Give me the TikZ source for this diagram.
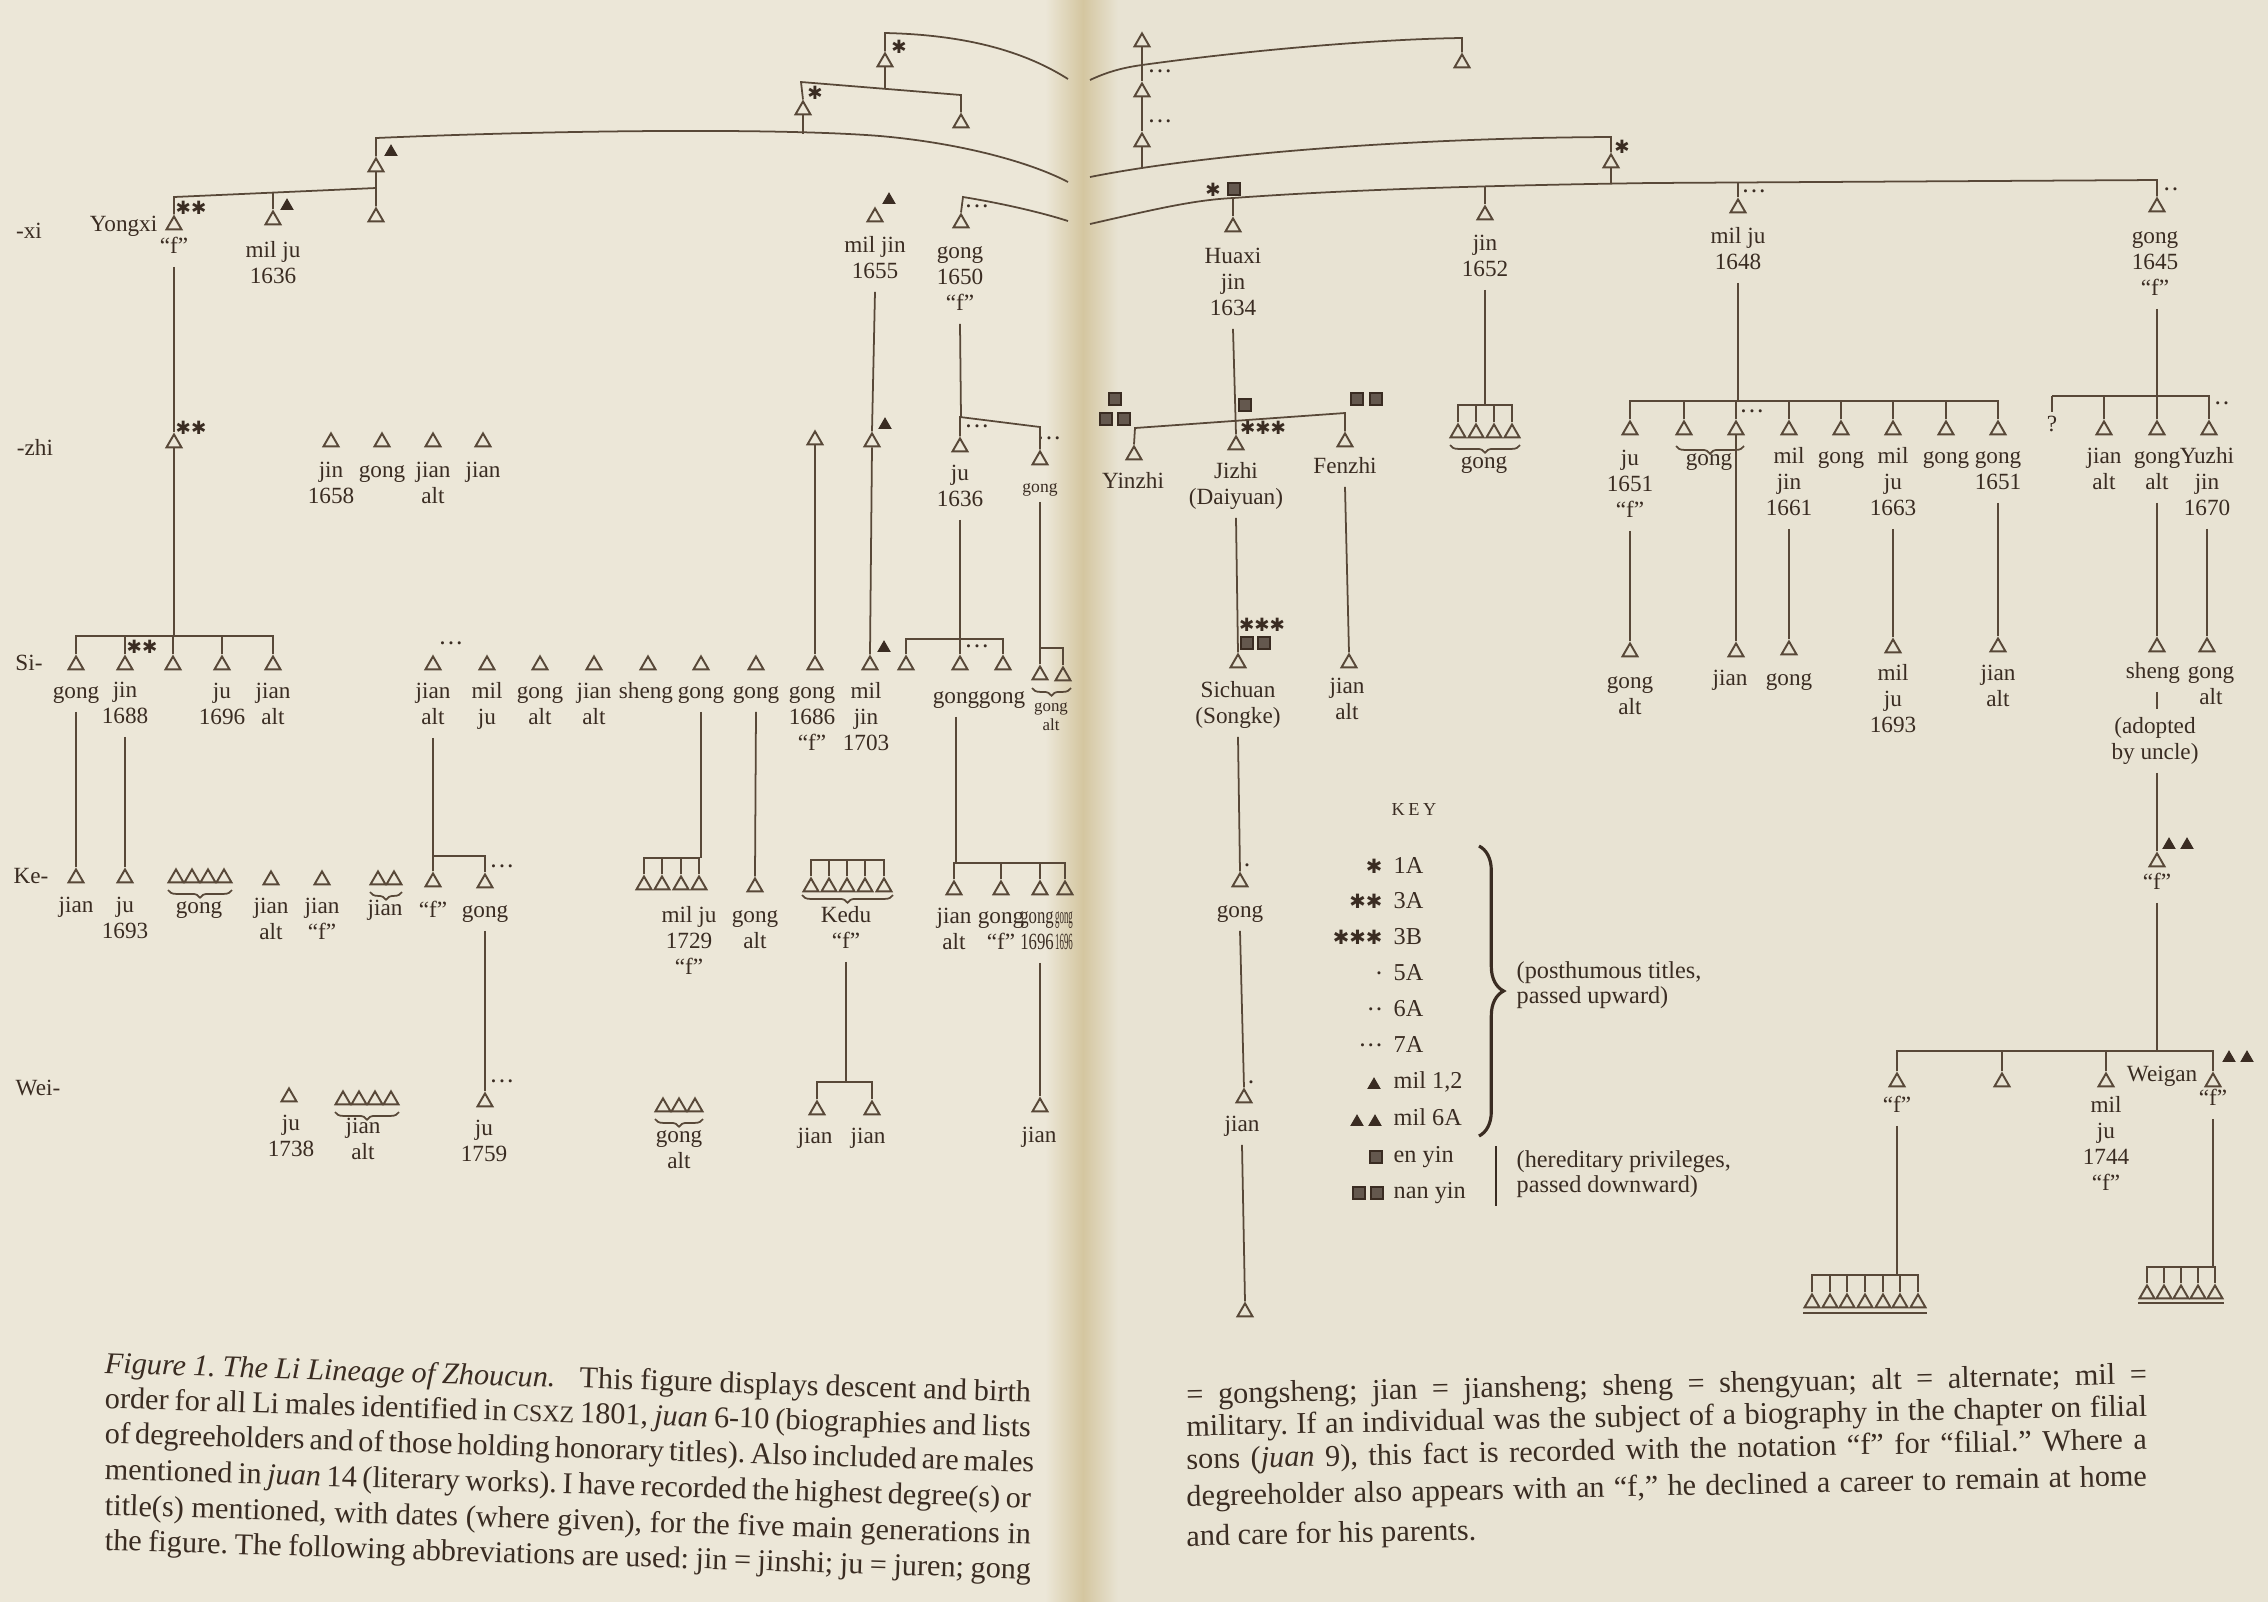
\documentclass[tikz,border=0pt]{standalone}
\usepackage{fontspec}
\setmainfont{Liberation Serif}
\newfontfamily\djv{DejaVu Sans}
\usepackage{graphicx}
\usetikzlibrary{shapes.geometric,decorations.pathreplacing}
\definecolor{paperL}{RGB}{236,231,216}
\definecolor{paperR}{RGB}{232,227,211}
\definecolor{gut}{RGB}{212,198,160}
\definecolor{ink}{RGB}{58,44,34}
\definecolor{lnc}{RGB}{88,72,56}
\definecolor{sqf}{RGB}{100,88,78}
\tikzset{
 tri/.style={draw=lnc,line width=0.55pt,regular polygon,regular polygon sides=3,minimum size=0.172cm,inner sep=0pt},
 ftri/.style={fill=ink,draw=ink,line width=0.3pt,regular polygon,regular polygon sides=3,minimum size=0.135cm,inner sep=0pt},
 sqr/.style={fill=sqf,draw=ink,line width=0.7pt,minimum size=0.115cm,inner sep=0pt},
 ln/.style={draw=lnc,line width=0.5pt},
 lab/.style={font=\fontsize{6.6}{7.4}\selectfont,text=ink,inner xsep=0pt,inner ysep=1.5pt,anchor=base},
 mk/.style={text=ink,inner sep=0pt},
 brc/.style={draw=lnc,line width=0.5pt,decorate,decoration={brace,mirror,amplitude=2.2pt}},
 keyt/.style={font=\fontsize{6.9}{7.2}\selectfont,text=ink,inner sep=0pt},
 captxt/.style={font=\fontsize{8.6}{10}\selectfont\frenchspacing,text=ink,inner sep=0pt,anchor=base west},
}
\newcommand\Tr[3]{\node[tri] (#1) at (#2,#3) {};}
\newcommand\Lb[4]{\node[lab] (#1) at (#2,{#3+5}) {\begin{tabular}[t]{@{}c@{}}#4\end{tabular}};}
\newcommand\Sr[4]{\node[mk,font=\djv\fontsize{5.2}{5.2}\selectfont] (#1) at (#2,#3) {#4};}
\newcommand\Dt[4]{\node[mk,font=\fontsize{3.6}{3.6}\selectfont] (#1) at (#2,#3) {#4};}
\newcommand\Ft[3]{\node[ftri] (#1) at (#2,#3) {};}
\newcommand\Sq[3]{\node[sqr] (#1) at (#2,#3) {};}
\newcommand\Bk[4]{\draw[ln] (#2.north) -- (#2.north |- 0,#1) -- (#3.north |- 0,#1) -- (#3.north);
  \foreach \nd in {#4} {\draw[ln] (\nd.north) -- (\nd.north |- 0,#1);}}
\def\dii{\textbullet\kern1.1pt\textbullet}
\def\diii{\textbullet\kern1.1pt\textbullet\kern1.1pt\textbullet}
\begin{document}
\begin{tikzpicture}[x=0.01cm,y=-0.01cm]
\useasboundingbox (0,0) rectangle (2268,1602);
% ---------- paper ----------
\fill[paperL] (0,0) rectangle (1083,1602);
\fill[paperR] (1083,0) rectangle (2268,1602);
\shade[left color=paperL,right color=gut] (1045,0) rectangle (1083,1602);
\shade[left color=gut,right color=paperR] (1083,0) rectangle (1118,1602);
% ---------- generation names ----------
\Lb{gXi}{29}{233}{-xi}
\Lb{gZhi}{35}{450}{-zhi}
\Lb{gSi}{29}{665}{Si-}
\Lb{gKe}{31}{878}{Ke-}
\Lb{gWei}{38}{1090}{Wei-}
% ---------- left page, top ----------
\Tr{root}{885}{62} \Sr{sRoot}{899}{47}{✱}
\Tr{gA}{803}{110} \Sr{sA}{815}{93}{✱}
\Tr{gB}{961}{123}
\draw[ln] (gA.north) -- (801,82) -- (961,95) -- (gB.north);
\draw[ln] (root.south) -- (885,89);
\draw[ln] (root.north) -- (885,33) .. controls (975,35) and (1030,55) .. (1068,79);
\draw[ln] (gA.south) -- (803,134);
\Tr{up}{376}{167} \Ft{fUp}{391}{152}
\draw[ln] (up.north) -- (376,138) .. controls (560,130) and (780,128) .. (880,136) .. controls (960,143) and (1030,162) .. (1068,182);
% xi row
\Tr{yx}{174}{225} \Sr{sYx}{191}{208}{✱✱}
\node[lab,anchor=base east] (lYx) at (158,231) {Yongxi};
\Lb{lYf}{174}{248}{“f”}
\Tr{mj}{273}{220} \Ft{fMj}{287}{206}
\Lb{lMj}{273}{252}{mil ju\\1636}
\Tr{x3}{376}{217}
\draw[ln] (yx.north) -- (174,197) -- (376,188) -- (x3.north);
\draw[ln] (mj.north) -- (273,193);
\draw[ln] (up.south) -- (376,188);
\Tr{mj55}{875}{217} \Ft{fMj55}{889}{200}
\Lb{lMj55}{875}{247}{mil jin\\1655}
\Tr{g50}{961}{223} \Dt{dG50}{977}{208}{\diii}
\Lb{lG50}{960}{253}{gong\\1650\\“f”}
\draw[ln] (g50.north) -- (963,197) .. controls (1000,203) and (1040,212) .. (1068,221);
% zhi row
\Tr{zY}{174}{443} \Sr{sZY}{191}{428}{✱✱}
\draw[ln] (lYf.south) -- (zY.north);
\Tr{z1}{331}{442} \Tr{z2}{382}{442} \Tr{z3}{433}{442} \Tr{z4}{483}{442}
\Lb{lz1}{331}{472}{jin\\1658}
\Lb{lz2}{382}{472}{gong}
\Lb{lz3}{433}{472}{jian\\alt}
\Lb{lz4}{483}{472}{jian}
\Tr{zG}{815}{440}
\Tr{zM}{872}{442} \Ft{fZM}{885}{425}
\draw[ln] (lMj55.south) -- (zM.north);
\Tr{zJ}{960}{447} \Dt{dZJ}{977}{428}{\diii}
\Tr{zR}{1040}{460} \Dt{dZR}{1049}{440}{\diii}
\draw[ln] (zJ.north) -- (960,417) -- (1040,427) -- (zR.north);
\draw[ln] (lG50.south) -- (961,417);
\Lb{lzJ}{960}{475}{ju\\1636}
\node[lab,font=\fontsize{5}{5.6}\selectfont] (lzR) at (1040,492) {gong};
% Si row
\Tr{s1}{76}{665} \Tr{s2}{125}{665} \Tr{s3}{173}{665} \Tr{s4}{222}{665} \Tr{s5}{273}{665}
\Bk{636}{s1}{s5}{s2,s3,s4}
\draw[ln] (zY.south) -- (174,636);
\Sr{sS2}{142}{647}{✱✱}
\Lb{ls1}{76}{693}{gong}
\Lb{ls2}{125}{692}{jin\\1688}
\Lb{ls4}{222}{693}{ju\\1696}
\Lb{ls5}{273}{693}{jian\\alt}
\Tr{s6}{433}{665} \Dt{dS6}{451}{645}{\diii}
\Tr{s7}{487}{665} \Tr{s8}{540}{665} \Tr{s9}{594}{665} \Tr{s10}{648}{665}
\Tr{s11}{701}{665} \Tr{s12}{756}{665} \Tr{s13}{815}{665} \Tr{s14}{870}{665}
\Ft{fS14}{884}{648}
\Lb{ls6}{433}{693}{jian\\alt}
\Lb{ls7}{487}{693}{mil\\ju}
\Lb{ls8}{540}{693}{gong\\alt}
\Lb{ls9}{594}{693}{jian\\alt}
\Lb{ls10}{646}{693}{sheng}
\Lb{ls11}{701}{693}{gong}
\Lb{ls12}{756}{693}{gong}
\Lb{ls13}{812}{693}{gong\\1686\\“f”}
\Lb{ls14}{866}{693}{mil\\jin\\1703}
\draw[ln] (zG.south) -- (s13.north);
\draw[ln] (zM.south) -- (s14.north);
\Tr{s15}{906}{665} \Tr{s16}{960}{665} \Tr{s17}{1003}{665}
\Bk{639}{s15}{s17}{s16}
\draw[ln] (lzJ.south) -- (960,639);
\Dt{dS16}{977}{648}{\diii}
\Lb{ls16}{956}{698}{gong}
\Lb{ls17}{1002}{698}{gong}
\Tr{s18}{1040}{675} \Tr{s19}{1063}{676}
\draw[ln] (lzR.south) -- (1040,648);
\Bk{648}{s18}{s19}{s18}
\draw[brc] (1032,688) -- (1071,688);
\node[lab,font=\fontsize{4.8}{5.6}\selectfont] (ls18) at (1051,711) {\begin{tabular}[t]{@{}c@{}}gong\\alt\end{tabular}};
% Ke row
\Tr{k1}{76}{878} \Tr{k2}{125}{878}
\draw[ln] (ls1.south) -- (k1.north);
\draw[ln] (ls2.south) -- (k2.north);
\Lb{lk1}{76}{907}{jian}
\Lb{lk2}{125}{907}{ju\\1693}
\Tr{kq1}{176}{878} \Tr{kq2}{192}{878} \Tr{kq3}{208}{878} \Tr{kq4}{224}{878}
\draw[brc] (168,890) -- (232,890);
\Lb{lkq}{199}{908}{gong}
\Tr{kj1}{271}{880} \Tr{kj2}{322}{880}
\Lb{lkj1}{271}{908}{jian\\alt}
\Lb{lkj2}{322}{908}{jian\\“f”}
\Tr{kp1}{378}{880} \Tr{kp2}{394}{880}
\draw[brc] (370,892) -- (402,892);
\Lb{lkp}{385}{910}{jian}
\Tr{kf}{433}{882} \Tr{kg}{485}{883}
\Bk{856}{kf}{kg}{kf}
\draw[ln] (ls6.south) -- (433,856);
\Dt{dKg}{502}{868}{\diii}
\Lb{lkf}{433}{912}{“f”}
\Lb{lkg}{485}{912}{gong}
\Tr{m1}{644}{885} \Tr{m2}{662}{885} \Tr{m3}{681}{885} \Tr{m4}{699}{885}
\Bk{858}{m1}{m4}{m2,m3}
\draw[ln] (ls11.south) -- (ls11.south |- 0,858);
\Lb{lm}{689}{917}{mil ju\\1729\\“f”}
\Tr{ka}{755}{887}
\draw[ln] (ls12.south) -- (ka.north);
\Lb{lka}{755}{917}{gong\\alt}
\Tr{kd1}{811}{887} \Tr{kd2}{829}{887} \Tr{kd3}{847}{887} \Tr{kd4}{865}{887} \Tr{kd5}{884}{887}
\Bk{860}{kd1}{kd5}{kd2,kd3,kd4}
\draw[brc] (802,895) -- (893,895);
\Lb{lkd}{846}{917}{Kedu\\“f”}
\Tr{kk1}{954}{890} \Tr{kk2}{1001}{890} \Tr{kk3}{1040}{890} \Tr{kk4}{1065}{890}
\Bk{863}{kk1}{kk4}{kk2,kk3}
\draw[ln] (ls16.south) -- (ls16.south |- 0,863);
\Lb{lkk1}{954}{918}{jian\\alt}
\Lb{lkk2}{1001}{918}{gong\\“f”}
\node[lab] (lkk3) at (1037,923) {\scalebox{0.72}[1]{\begin{tabular}[t]{@{}c@{}}gong\\1696\end{tabular}}};
\node[lab] (lkk4) at (1064,923) {\scalebox{0.38}[1]{\begin{tabular}[t]{@{}c@{}}gong\\1696\end{tabular}}};
% Wei row
\Tr{w1}{289}{1097}
\Lb{lw1}{291}{1125}{ju\\1738}
\Tr{wq1}{343}{1100} \Tr{wq2}{359}{1100} \Tr{wq3}{375}{1100} \Tr{wq4}{391}{1100}
\draw[brc] (335,1112) -- (399,1112);
\Lb{lwq}{363}{1128}{jian\\alt}
\Tr{w3}{485}{1102}
\draw[ln] (lkg.south) -- (w3.north);
\Dt{dW3}{502}{1083}{\diii}
\Lb{lw3}{484}{1130}{ju\\1759}
\Tr{wg1}{663}{1107} \Tr{wg2}{679}{1107} \Tr{wg3}{695}{1107}
\draw[brc] (655,1119) -- (703,1119);
\Lb{lwg}{679}{1137}{gong\\alt}
\Tr{wj1}{817}{1110} \Tr{wj2}{872}{1110}
\Bk{1082}{wj1}{wj2}{wj1}
\draw[ln] (lkd.south) -- (lkd.south |- 0,1082);
\Lb{lwj1}{815}{1138}{jian}
\Lb{lwj2}{868}{1138}{jian}
\Tr{ww}{1040}{1107}
\draw[ln] (ww.north |- lkk3.south) -- (ww.north);
\Lb{lww}{1039}{1137}{jian}
% ---------- right page, top ----------
\Tr{c1}{1142}{42} \Tr{c2}{1142}{92} \Tr{c3}{1142}{142}
\draw[ln] (c1.south) -- (c2.north);
\draw[ln] (c2.south) -- (c3.north);
\draw[ln] (c3.south) -- (1142,167);
\Dt{dC2}{1160}{73}{\diii} \Dt{dC3}{1160}{123}{\diii}
\Tr{t62}{1462}{63}
\draw[ln] (1090,80) .. controls (1105,73) and (1120,68) .. (1142,65) .. controls (1250,50) and (1380,39) .. (1462,38) -- (t62.north);
\Tr{t61}{1611}{163} \Sr{sT61}{1622}{147}{✱}
\draw[ln] (1090,177) .. controls (1200,155) and (1400,138) .. (1611,137) -- (t61.north);
\draw[ln] (t61.south) -- (1611,184);
\Tr{t45}{2157}{207} \Dt{dT45}{2171}{191}{\dii}
\draw[ln] (1090,224) .. controls (1160,208) and (1195,200) .. (1233,198) .. controls (1330,191) and (1450,186) .. (1650,183) -- (2157,180) -- (t45.north);
\Lb{lT45}{2155}{238}{gong\\1645\\“f”}
\Tr{hx}{1233}{227} \Sr{sHx}{1213}{190}{✱} \Sq{qHx}{1234}{189}
\draw[ln] (1233,198) -- (hx.north);
\Lb{lHx}{1233}{258}{Huaxi\\jin\\1634}
\Tr{j52}{1485}{215}
\draw[ln] (1485,187) -- (j52.north);
\Lb{lJ52}{1485}{245}{jin\\1652}
\Tr{gg1}{1458}{433} \Tr{gg2}{1476}{433} \Tr{gg3}{1494}{433} \Tr{gg4}{1512}{433}
\Bk{405}{gg1}{gg4}{gg2,gg3}
\draw[ln] (lJ52.south) -- (1485,405);
\draw[brc] (1450,445) -- (1520,445);
\Lb{lgg}{1484}{463}{gong}
\Tr{m48}{1738}{208} \Dt{dM48}{1754}{193}{\diii}
\draw[ln] (1738,182) -- (m48.north);
\Lb{lM48}{1738}{238}{mil ju\\1648}
% zhi row right
\Tr{r1}{1630}{430} \Tr{r2}{1684}{430} \Tr{r3}{1736}{430} \Tr{r4}{1789}{430}
\Tr{r5}{1841}{430} \Tr{r6}{1893}{430} \Tr{r7}{1946}{430} \Tr{r8}{1998}{430}
\Bk{401}{r1}{r8}{r2,r3,r4,r5,r6,r7}
\draw[ln] (lM48.south) -- (lM48.south |- 0,401);
\Dt{dR3}{1752}{413}{\diii}
\draw[brc] (1676,446) -- (1744,446);
\Lb{lr23}{1709}{460}{gong}
\Lb{lr1}{1630}{460}{ju\\1651\\“f”}
\Lb{lr4}{1789}{458}{mil\\jin\\1661}
\Lb{lr5}{1841}{458}{gong}
\Lb{lr6}{1893}{458}{mil\\ju\\1663}
\Lb{lr7}{1946}{458}{gong}
\Lb{lr8}{1998}{458}{gong\\1651}
\Tr{y2}{2104}{430} \Tr{y3}{2157}{430} \Tr{y4}{2209}{430}
\coordinate (yq) at (2052,396);
\draw[ln] (yq) -- (y4.north |- yq) -- (y4.north);
\draw[ln] (yq) -- (2052,412);
\node[lab,anchor=center] (lyq) at (2052,424) {?};
\draw[ln] (y2.north) -- (y2.north |- yq);
\draw[ln] (y3.north) -- (y3.north |- yq);
\draw[ln] (y3.north |- lT45.south) -- (y3.north |- yq);
\Dt{dY4}{2222}{405}{\dii}
\Lb{ly2}{2104}{458}{jian\\alt}
\Lb{ly3}{2157}{458}{gong\\alt}
\Lb{ly4}{2207}{458}{Yuzhi\\jin\\1670}
% Huaxi's sons
\Tr{yz}{1134}{455} \Tr{jz}{1236}{445} \Tr{fz}{1345}{442}
\draw[ln] (yz.north) -- (1135,428) -- (1345,413) -- (fz.north);
\draw[ln] (lHx.south) -- (jz.north);
\Sq{qY1}{1115}{399} \Sq{qY2}{1106}{419} \Sq{qY3}{1124}{419}
\Sq{qJ}{1245}{405} \Sr{sJ}{1263}{428}{✱✱✱}
\Sq{qF1}{1357}{399} \Sq{qF2}{1376}{399}
\Lb{lyz}{1133}{483}{Yinzhi}
\Lb{ljz}{1236}{473}{Jizhi\\(Daiyuan)}
\Lb{lfz}{1345}{468}{Fenzhi}
\Tr{sc}{1238}{663} \Sr{sSc}{1262}{625}{✱✱✱} \Sq{qS1}{1247}{643} \Sq{qS2}{1264}{643}
\draw[ln] (ljz.south) -- (sc.north);
\Lb{lsc}{1238}{692}{Sichuan\\(Songke)}
\Tr{fj}{1349}{663}
\draw[ln] (lfz.south) -- (fj.north);
\Lb{lfj}{1347}{688}{jian\\alt}
\Tr{kS}{1240}{882} \Dt{dKS}{1247}{867}{\textbullet}
\draw[ln] (lsc.south) -- (kS.north);
\Lb{lkS}{1240}{912}{gong}
\Tr{wS}{1244}{1098} \Dt{dWS}{1251}{1084}{\textbullet}
\draw[ln] (lkS.south) -- (wS.north);
\Lb{lwS}{1242}{1126}{jian}
\Tr{bS}{1245}{1312}
\draw[ln] (lwS.south) -- (bS.north);
% Si row right
\Tr{q1}{1630}{652} \Tr{q3}{1736}{652} \Tr{q4}{1789}{650} \Tr{q6}{1893}{648}
\Tr{q8}{1998}{647} \Tr{q10}{2157}{647} \Tr{q11}{2207}{647}
\draw[ln] (lr1.south) -- (q1.north);
\draw[ln] (r3.south) -- (q3.north);
\draw[ln] (lr4.south) -- (q4.north);
\draw[ln] (lr6.south) -- (q6.north);
\draw[ln] (lr8.south) -- (q8.north);
\draw[ln] (ly3.south) -- (q10.north);
\draw[ln] (ly4.south) -- (q11.north);
\Lb{lq1}{1630}{683}{gong\\alt}
\Lb{lq3}{1730}{680}{jian}
\Lb{lq4}{1789}{680}{gong}
\Lb{lq6}{1893}{675}{mil\\ju\\1693}
\Lb{lq8}{1998}{675}{jian\\alt}
\Lb{lq10}{2153}{673}{sheng}
\Lb{lad}{2155}{728}{(adopted\\by uncle)}
\draw[ln] (q10.south |- lq10.south) -- (q10.south |- lad.north);
\Lb{lq11}{2211}{673}{gong\\alt}
% lower right
\Tr{f1}{2157}{862} \Ft{fF1a}{2169}{845} \Ft{fF1b}{2187}{845}
\draw[ln] (f1.north |- lad.south) -- (f1.north);
\Lb{lf1}{2157}{884}{“f”}
\Tr{b1}{1897}{1082} \Tr{b2}{2002}{1082} \Tr{b3}{2106}{1082} \Tr{b4}{2213}{1082}
\Bk{1051}{b1}{b4}{b2,b3}
\draw[ln] (lf1.south) -- (lf1.south |- 0,1051);
\Ft{fB4a}{2229}{1058} \Ft{fB4b}{2247}{1058}
\Lb{lb1}{1897}{1107}{“f”}
\Lb{lb3}{2106}{1107}{mil\\ju\\1744\\“f”}
\node[lab,anchor=base east] (lwg) at (2198,1081) {Weigan};
\Lb{lb4}{2213}{1100}{“f”}
\Tr{h1}{1812}{1303} \Tr{h2}{1830}{1303} \Tr{h3}{1847}{1303} \Tr{h4}{1865}{1303}
\Tr{h5}{1883}{1303} \Tr{h6}{1900}{1303} \Tr{h7}{1918}{1303}
\Bk{1275}{h1}{h7}{h2,h3,h4,h5,h6}
\draw[ln] (lb1.south) -- (lb1.south |- 0,1275);
\draw[ln] (1803,1313) -- (1927,1313);
\Tr{e1}{2147}{1294} \Tr{e2}{2164}{1294} \Tr{e3}{2181}{1294} \Tr{e4}{2198}{1294} \Tr{e5}{2215}{1294}
\Bk{1267}{e1}{e5}{e2,e3,e4}
\draw[ln] (lb4.south) -- (lb4.south |- 0,1267);
\draw[ln] (2138,1303) -- (2224,1303);
% ---------- key ----------
\node[mk,font=\fontsize{5.2}{6}\selectfont] (kKey) at (1414,809) {K\kern1pt E\kern1pt Y};
\node[mk,font=\djv\fontsize{5.6}{5.6}\selectfont,anchor=east] (ks1) at (1383,866) {✱};
\node[mk,font=\djv\fontsize{5.6}{5.6}\selectfont,anchor=east] (ks2) at (1383,901) {✱✱};
\node[mk,font=\djv\fontsize{5.6}{5.6}\selectfont,anchor=east] (ks3) at (1383,937) {✱✱✱};
\node[mk,font=\fontsize{3.6}{3.6}\selectfont,anchor=east] (ks4) at (1382,975) {\textbullet};
\node[mk,font=\fontsize{3.6}{3.6}\selectfont,anchor=east] (ks5) at (1382,1011) {\dii};
\node[mk,font=\fontsize{3.6}{3.6}\selectfont,anchor=east] (ks6) at (1382,1047) {\diii};
\Ft{kt1}{1374}{1085} \Ft{kt2a}{1357}{1122} \Ft{kt2b}{1375}{1122}
\Sq{kq1}{1376}{1157} \Sq{kq2a}{1359}{1193} \Sq{kq2b}{1377}{1193}
\node[keyt,anchor=base west] (kt01) at (1393,873) {1A};
\node[keyt,anchor=base west] (kt02) at (1393,908) {3A};
\node[keyt,anchor=base west] (kt03) at (1393,944) {3B};
\node[keyt,anchor=base west] (kt04) at (1393,980) {5A};
\node[keyt,anchor=base west] (kt05) at (1393,1016) {6A};
\node[keyt,anchor=base west] (kt06) at (1393,1052) {7A};
\node[keyt,anchor=base west] (kt07) at (1393,1088) {mil 1,2};
\node[keyt,anchor=base west] (kt08) at (1393,1125) {mil 6A};
\node[keyt,anchor=base west] (kt09) at (1393,1162) {en yin};
\node[keyt,anchor=base west] (kt10) at (1393,1198) {nan yin};
\draw[draw=ink,line width=0.9pt,decorate,decoration={brace,amplitude=7pt}] (1479,846) -- (1479,1136);
\draw[draw=ink,line width=0.6pt] (1496,1146) -- (1496,1206);
\node[keyt,anchor=base west] (kpu) at (1516,978) {\begin{tabular}[t]{@{}l@{}}(posthumous titles,\\passed upward)\end{tabular}};
\node[keyt,anchor=base west] (kpd) at (1516,1167) {\begin{tabular}[t]{@{}l@{}}(hereditary privileges,\\passed downward)\end{tabular}};
% ---------- captions ----------
\node[captxt,rotate=-1.8] (cl1) at (104,1373) {\hbox to 9.26cm{\textit{Figure 1. The Li Lineage of Zhoucun.}\hskip 0.8em plus 1em This figure displays descent and birth}};
\node[captxt,rotate=-1.8] (cl2) at (104,1408) {\hbox to 9.26cm{order for all Li males identified in {\fontsize{6.8}{7}\selectfont CSXZ} 1801, \textit{juan} 6-10 (biographies and lists}};
\node[captxt,rotate=-1.8] (cl3) at (104,1443) {\hbox to 9.26cm{of degreeholders and of those holding honorary titles). Also included are males}};
\node[captxt,rotate=-1.8] (cl4) at (104,1479) {\hbox to 9.26cm{mentioned in \textit{juan} 14 (literary works). I have recorded the highest degree(s) or}};
\node[captxt,rotate=-1.8] (cl5) at (104,1515) {\hbox to 9.26cm{title(s) mentioned, with dates (where given), for the five main generations in}};
\node[captxt,rotate=-1.8] (cl6) at (104,1550) {\hbox to 9.26cm{the figure. The following abbreviations are used: jin = jinshi; ju = juren; gong}};
\node[captxt,rotate=1.2] (cr1) at (1186,1404) {\hbox to 9.6cm{= gongsheng; jian = jiansheng; sheng = shengyuan; alt = alternate; mil =}};
\node[captxt,rotate=1.2] (cr2) at (1186,1436) {\hbox to 9.6cm{military. If an individual was the subject of a biography in the chapter on filial}};
\node[captxt,rotate=1.2] (cr3) at (1186,1469) {\hbox to 9.6cm{sons (\textit{juan} 9), this fact is recorded with the notation “f” for “filial.” Where a}};
\node[captxt,rotate=1.2] (cr4) at (1186,1506) {\hbox to 9.6cm{degreeholder also appears with an “f,” he declined a career to remain at home}};
\node[captxt,rotate=1.2] (cr5) at (1186,1546) {and care for his parents.};
\end{tikzpicture}
\end{document}
